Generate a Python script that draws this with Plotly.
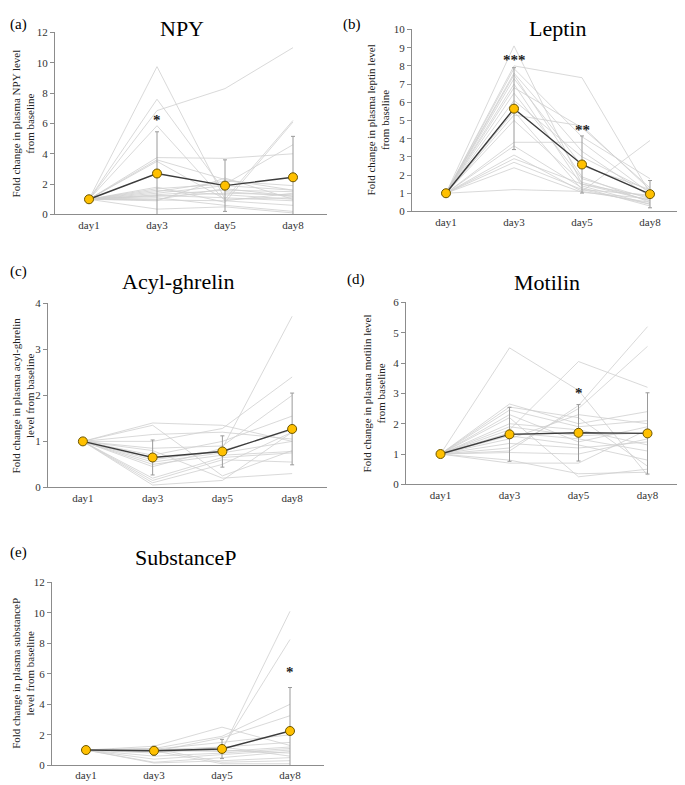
import plotly.graph_objects as go

days = ["day1", "day3", "day5", "day8"]

# individual subjects (fold change from baseline)
npy_subjects = [
    [1, 9.75, 1.0, 1.1], [1, 7.6, 1.5, 1.2], [1, 6.85, 8.3, 11.0], [1, 5.85, 0.9, 1.4],
    [1, 3.75, 3.7, 4.0], [1, 3.5, 1.0, 6.2], [1, 3.6, 2.3, 1.6], [1, 1.8, 0.8, 6.1],
    [1, 1.7, 2.0, 4.6], [1, 1.5, 2.2, 1.9], [1, 1.3, 1.6, 1.5], [1, 1.2, 1.4, 1.3],
    [1, 1.1, 0.6, 0.2], [1, 1.0, 1.7, 1.2], [1, 0.9, 2.4, 1.0], [1, 0.35, 0.5, 0.1],
    [1, 1.25, 1.1, 0.9], [1, 1.4, 1.9, 1.6], [1, 0.95, 0.9, 0.6], [1, 1.6, 1.3, 1.0],
]
npy_mean = [1, 2.7, 1.9, 2.45]
npy_sd = [0, 2.75, 1.7, 2.7]

leptin_subjects = [
    [1, 9.1, 1.5, 0.6], [1, 8.0, 7.35, 1.0], [1, 7.85, 4.1, 1.8], [1, 7.6, 3.3, 0.8],
    [1, 7.5, 1.9, 0.5], [1, 7.3, 2.5, 1.2], [1, 7.0, 1.4, 0.4], [1, 6.8, 4.6, 1.3],
    [1, 6.5, 1.8, 0.7], [1, 6.1, 3.0, 1.1], [1, 5.5, 1.2, 0.9], [1, 5.3, 4.7, 1.2],
    [1, 5.0, 1.6, 0.6], [1, 3.8, 3.8, 1.0], [1, 3.6, 1.3, 0.3], [1, 3.1, 1.1, 0.5],
    [1, 2.9, 1.5, 0.8], [1, 2.7, 1.2, 0.4], [1, 2.4, 1.05, 0.7], [1, 1.2, 1.1, 3.9],
]
leptin_mean = [1, 5.65, 2.58, 0.95]
leptin_sd = [0, 2.25, 1.57, 0.75]

ghrelin_subjects = [
    [1, 1.4, 1.35, 1.0], [1, 1.35, 0.25, 0.8], [1, 1.15, 1.2, 1.05], [1, 1.0, 1.28, 2.4],
    [1, 0.85, 0.9, 2.0], [1, 0.7, 1.0, 1.55], [1, 0.6, 0.8, 1.25], [1, 0.55, 0.75, 1.0],
    [1, 0.5, 0.7, 0.78], [1, 0.45, 0.85, 3.72], [1, 0.2, 0.65, 0.75], [1, 0.15, 0.6, 0.55],
    [1, 0.1, 0.5, 1.2], [1, 0.05, 0.15, 1.2], [1, 0.8, 0.2, 0.3],
]
ghrelin_mean = [1, 0.65, 0.78, 1.27]
ghrelin_sd = [0, 0.38, 0.34, 0.78]

motilin_subjects = [
    [1, 4.5, 3.1, 0.3], [1, 2.65, 2.0, 2.4], [1, 2.55, 2.2, 0.6], [1, 2.45, 1.9, 2.1],
    [1, 2.3, 1.4, 1.9], [1, 2.2, 0.25, 0.5], [1, 2.0, 1.8, 1.3], [1, 1.9, 1.6, 1.7],
    [1, 1.8, 4.05, 3.2], [1, 1.7, 1.5, 1.1], [1, 1.6, 1.3, 0.8], [1, 1.5, 2.3, 2.0],
    [1, 1.35, 1.2, 1.4], [1, 1.2, 2.5, 4.55], [1, 1.1, 2.6, 5.2], [1, 1.05, 1.0, 1.5],
    [1, 0.8, 0.35, 0.4], [1, 0.7, 0.7, 1.8],
]
motilin_mean = [1, 1.65, 1.7, 1.68]
motilin_sd = [0, 0.89, 0.93, 1.34]

substp_subjects = [
    [1, 1.25, 2.5, 1.3], [1, 1.1, 1.9, 4.0], [1, 1.0, 1.0, 10.1], [1, 0.95, 1.1, 8.25],
    [1, 0.9, 1.8, 3.25], [1, 1.05, 1.5, 2.0], [1, 0.8, 1.2, 1.5], [1, 1.0, 0.9, 1.2],
    [1, 0.6, 0.8, 1.1], [1, 0.4, 0.7, 1.0], [1, 0.2, 0.5, 0.9], [1, 0.15, 0.3, 0.5],
    [1, 1.1, 0.2, 0.3], [1, 0.95, 0.1, 0.1], [1, 1.0, 1.2, 0.6], [1, 0.9, 1.0, 0.8],
]
substp_mean = [1, 0.95, 1.07, 2.25]
substp_sd = [0, 0.3, 0.63, 2.85]

titles = ["NPY", "Leptin", "Acyl-ghrelin", "Motilin", "SubstanceP"]
letters = ["(a)", "(b)", "(c)", "(d)", "(e)"]
ytitles = [
    "Fold change in plasma NPY level<br>from baseline",
    "Fold change in plasma leptin level<br>from baseline",
    "Fold change in plasma acyl-ghrelin<br>level from baseline",
    "Fold change in plasma motilin level<br>from baseline",
    "Fold change in plasma substanceP<br>level from baseline",
]
ymax = [12, 10, 4, 6, 12]
ydtick = [2, 1, 1, 1, 2]
# significance marks: (panel, day, y, text)
stars = [(0, "day3", 6.2, "*"), (1, "day3", 8.3, "***"), (1, "day5", 4.5, "**"),
         (3, "day5", 3.0, "*"), (4, "day8", 6.1, "*")]

all_subjects = [npy_subjects, leptin_subjects, ghrelin_subjects, motilin_subjects, substp_subjects]
all_means = [npy_mean, leptin_mean, ghrelin_mean, motilin_mean, substp_mean]
all_sds = [npy_sd, leptin_sd, ghrelin_sd, motilin_sd, substp_sd]

W, H = 685, 785
# target positions on the screenshot, in pixels: x0, x1, ytop, ybottom
boxes = [(55, 327, 32, 214), (412, 684, 29, 211), (48, 327, 303, 487),
         (406, 682, 302, 484), (52, 324, 582, 765)]
title_pos = [(182, 14), (557, 14), (178, 281), (547, 282), (185, 557)]
letter_pos = [(9, 9), (352, 9), (9, 271), (356, 279), (9, 552)]
ytitle_x = [18, 378, 19, 374, 17]


# page offset seen in the screenshot (body margin etc.)
def fx(px):
    return (px - 8) / W


def fy(py):
    return 1 - (py - 13.5) / 0.985 / H


serif = "Liberation Serif, Tinos, Times New Roman, DejaVu Serif, serif"
fig = go.Figure()
layout = dict(width=W, height=H, margin=dict(l=0, r=0, t=0, b=0),
              plot_bgcolor="white", paper_bgcolor="white", showlegend=False,
              font=dict(family=serif, size=11, color="#333333"))
annotations = []


def note(text, x, y, size, color="black", angle=0):
    # keep texts inside the page: clamp to the left / top edge
    xa, ya = "center", "middle"
    px, py = fx(x), fy(y)
    if px < 0.03:
        px, xa = 0.0, "left"
    if py > 0.985:
        py, ya = 1.0, "top"
    return dict(text=text, x=px, y=py, xref="paper", yref="paper",
                xanchor=xa, yanchor=ya, showarrow=False, textangle=angle,
                font=dict(size=size, color=color, family=serif))


for i in range(5):
    n = "" if i == 0 else str(i + 1)
    xa, ya = "x" + n, "y" + n
    x0, x1, yt, yb = boxes[i]
    layout["xaxis" + n] = dict(domain=[fx(x0), fx(x1)], anchor=ya, type="category",
                               categoryorder="array", categoryarray=days,
                               range=[-0.5, 3.5], showline=True, linecolor="#8c8c8c",
                               linewidth=1, ticks="", showgrid=False, zeroline=False,
                               tickfont=dict(size=11, color="#333333", family=serif))
    layout["yaxis" + n] = dict(domain=[fy(yb), fy(yt)], anchor=xa,
                               range=[0, ymax[i]], dtick=ydtick[i], showline=True,
                               linecolor="#8c8c8c", linewidth=1, ticks="outside",
                               ticklen=4, tickcolor="#8c8c8c", showgrid=False,
                               zeroline=False, tickfont=dict(size=11, color="#333333", family=serif))
    for s in all_subjects[i]:
        fig.add_trace(go.Scatter(x=days, y=s, xaxis=xa, yaxis=ya, mode="lines",
                                 line=dict(color="#cfcfcf", width=0.8), hoverinfo="skip"))
    fig.add_trace(go.Scatter(x=days, y=all_means[i], xaxis=xa, yaxis=ya, mode="lines+markers",
                             line=dict(color="#3c3c3c", width=1.4),
                             marker=dict(size=9, color="#FFC000", line=dict(color="#6b5500", width=1)),
                             error_y=dict(type="data", array=all_sds[i], visible=True,
                                          color="#9a9a9a", thickness=1, width=2)))
    annotations.append(note(titles[i], *title_pos[i], 22))
    annotations.append(note(letters[i], *letter_pos[i], 15))
    annotations.append(note(ytitles[i], ytitle_x[i], (yt + yb) / 2, 11, "#222222", -90))

for p, d, yv, t in stars:
    n = "" if p == 0 else str(p + 1)
    annotations.append(dict(text="<b>" + t + "</b>", x=d, y=yv, xref="x" + n, yref="y" + n,
                            showarrow=False, font=dict(size=15, color="#222222", family=serif)))

layout["annotations"] = annotations
fig.update_layout(**layout)
fig.write_html("out.html")
